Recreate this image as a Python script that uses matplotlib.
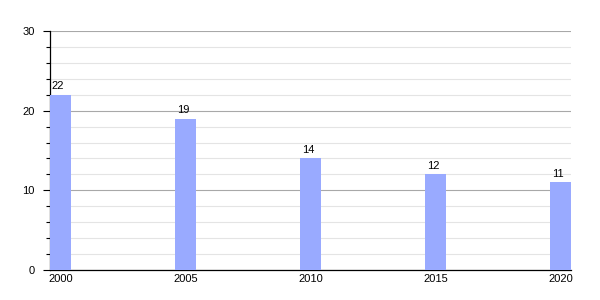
import matplotlib
matplotlib.use('Agg')
import numpy as np
import matplotlib.pyplot as plt
from matplotlib.ticker import MultipleLocator

# data
years = [2000, 2005, 2010, 2015, 2020]
values = [22, 19, 14, 12, 11]

plt.rcParams['font.family'] = ['Liberation Sans', 'DejaVu Sans']

fig = plt.figure(figsize=(6, 3), dpi=100)
ax = fig.add_axes([50/600., 30/300., 521/600., 239/300.])

bars = ax.bar(years, values, width=0.84, color='#99aaff', zorder=3)
for x, v in zip(years, values):
    ax.text(x - 0.1, v + 0.45, str(v), ha='center', va='bottom', fontsize=8, zorder=4)

ax.set_xlim(2000 - 0.42, 2020 + 0.42)
ax.set_ylim(0, 30)
ax.set_xticks(years)
ax.set_xticklabels([str(y) for y in years])
ax.yaxis.set_major_locator(MultipleLocator(10))
ax.yaxis.set_minor_locator(MultipleLocator(2))

# grid: light every 2, darker at 10s
ax.grid(True, axis='y', which='minor', color='#e4e4e4', linewidth=0.8, zorder=0)
ax.grid(True, axis='y', which='major', color='#a8a8a8', linewidth=0.8, zorder=1)

ax.spines['top'].set_visible(False)
ax.spines['right'].set_visible(False)
ax.spines['left'].set_linewidth(0.9)
ax.spines['bottom'].set_linewidth(0.9)

ax.tick_params(axis='y', which='major', length=5, width=0.8, labelsize=8, pad=6)
ax.tick_params(axis='y', which='minor', length=3, width=0.8)
ax.tick_params(axis='x', length=0, labelsize=8, pad=3)
for lbl in ax.get_xticklabels():
    lbl.set_x(lbl.get_position()[0])

plt.savefig('out.png', dpi=100)
